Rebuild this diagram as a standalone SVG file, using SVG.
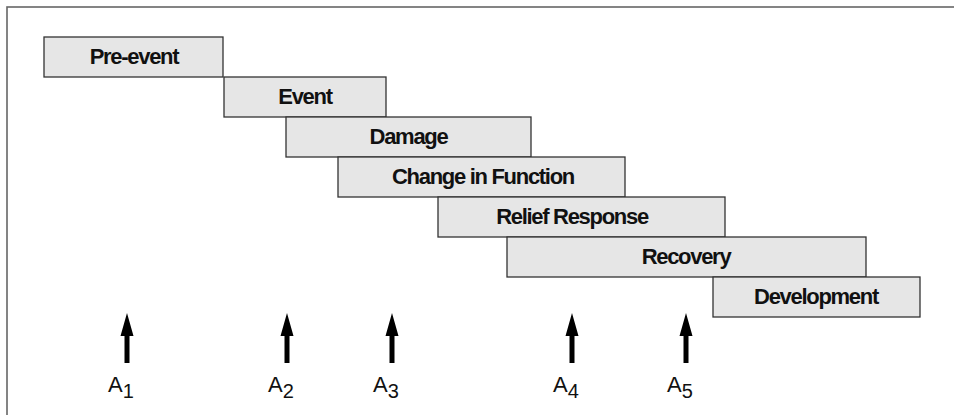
<svg xmlns="http://www.w3.org/2000/svg" width="954" height="415" viewBox="0 0 954 415">
<style>
.box rect{fill:#e6e6e6;stroke:#333;stroke-width:1.3}
.box text{font-family:"Liberation Sans",Arial,sans-serif;font-weight:bold;font-size:22px;letter-spacing:-1.3px;fill:#111;text-anchor:middle}
.lbl{font-family:"Liberation Sans",Arial,sans-serif;font-size:22px;fill:#111}
.arr{fill:#000}
</style>
<defs>
<path id="arrow" d="M0,0 L6.5,23 L2.5,23 L2.5,50 L-2.5,50 L-2.5,23 L-6.5,23 Z"/>
</defs>
<rect x="7" y="7" width="960" height="420" fill="#fff" stroke="#666" stroke-width="1.6"/>
<g id="pre-event" class="box"><rect x="44" y="37" width="179" height="40"/><text x="134" y="64">Pre-event</text></g>
<g id="event" class="box"><rect x="224" y="77" width="162" height="40"/><text x="305" y="104">Event</text></g>
<g id="damage" class="box"><rect x="286" y="117" width="245" height="40"/><text x="408.5" y="144">Damage</text></g>
<g id="change" class="box"><rect x="338" y="157" width="287" height="40"/><text x="483" y="184">Change in Function</text></g>
<g id="relief" class="box"><rect x="438" y="197" width="287" height="40"/><text x="572" y="224">Relief Response</text></g>
<g id="recovery" class="box"><rect x="507" y="237" width="359" height="40"/><text x="686" y="264">Recovery</text></g>
<g id="development" class="box"><rect x="713" y="277" width="207" height="40"/><text x="816" y="304">Development</text></g>
<g id="connectors" class="arr">
<use href="#arrow" x="127" y="313"/>
<use href="#arrow" x="287" y="313"/>
<use href="#arrow" x="392" y="313"/>
<use href="#arrow" x="572" y="313"/>
<use href="#arrow" x="686" y="313"/>
</g>
<g id="labels" class="lbl">
<text x="108" y="392">A<tspan dy="6" font-size="20">1</tspan></text>
<text x="268" y="392">A<tspan dy="6" font-size="20">2</tspan></text>
<text x="373" y="392">A<tspan dy="6" font-size="20">3</tspan></text>
<text x="553" y="392">A<tspan dy="6" font-size="20">4</tspan></text>
<text x="667" y="392">A<tspan dy="6" font-size="20">5</tspan></text>
</g>
</svg>
